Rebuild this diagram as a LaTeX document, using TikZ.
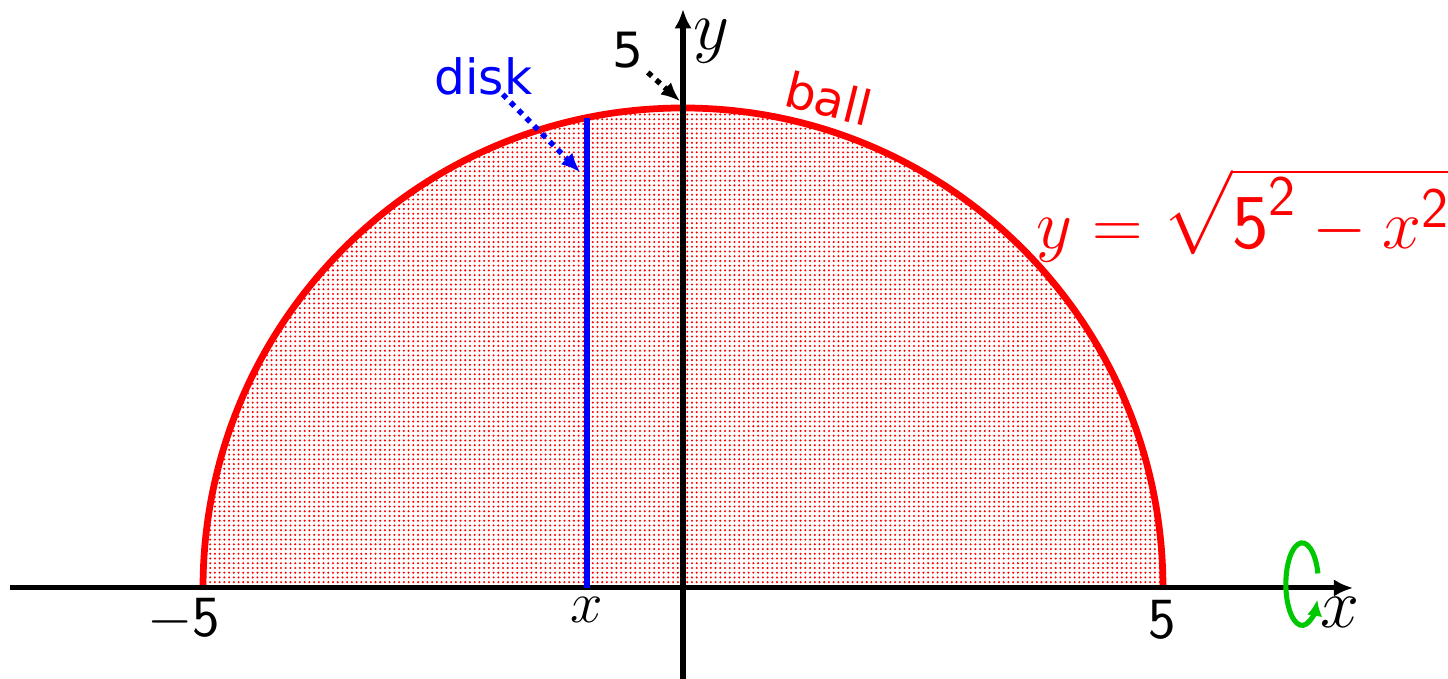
\documentclass[tikz,border=0pt]{standalone}
\usepackage{amsmath}
\usepackage{fontspec}
\newfontfamily\labelfont{DejaVu Sans}
\usetikzlibrary{arrows.meta,positioning,calc,patterns.meta}

\tikzdeclarepattern{
name=finedots,
type=uncolored,
bottom left={(-.1pt,-.1pt)},
top right={(1.5pt,1.5pt)},
tile size={(1.4pt,1.4pt)},
code={\fill (0.7pt,0.7pt) circle (0.34pt);}
}
\newcommand{\bigdigit}[1]{\text{\fontsize{23}{26}\selectfont\sffamily #1}}
\newcommand{\supdigit}[1]{\text{\fontsize{17}{20}\selectfont\sffamily #1}}

\begin{document}
\begin{tikzpicture}[
axis/.style={-{Latex[length=0.2cm,width=0.18cm]},line width=1.5pt},
ballstyle/.style={red,line width=2pt},
diskstyle/.style={blue,line width=1.6pt},
pointer/.style={-{Latex[length=0.2cm,width=0.17cm]},line width=1.6pt,dash pattern=on 1.6pt off 1.7pt},
rotstyle/.style={-{Latex[length=0.17cm,width=0.16cm]},line width=1.5pt,color={rgb,255:red,0;green,200;blue,0}},
lbl/.style={font=\LARGE,inner sep=1pt},
sflbl/.style={font=\labelfont\Large,inner sep=1pt}
]
\useasboundingbox (-7.115,-0.948) rectangle (7.969,6.125);
% region and circle
\fill[pattern=finedots,pattern color=red] (-5,0) arc[start angle=180,end angle=0,radius=5] -- cycle;
\draw[ballstyle] (-5,0) arc[start angle=180,end angle=0,radius=5];
% axes
\coordinate (xl) at (-7.01,0);
\coordinate (xr) at (6.98,0);
\coordinate (yb) at (0,-0.95);
\coordinate (yt) at (0,6.03);
\draw[axis] (xl) -- (xr);
\draw[axis] (yb) -- (yt);
\node[lbl,font=\huge] (ylab) at (0.3,5.7) {$y$};
\node[lbl,font=\huge] (xlab) at (6.84,-0.25) {$x$};
% disk
\coordinate (dbot) at (-1,0);
\coordinate (dtop) at (-1,{sqrt(24)});
\draw[diskstyle] (dbot) -- (dtop);
\node[lbl] (xpos) [below=0.06cm of dbot] {$x$};
\node[lbl] (m5) at (-5.2,-0.33) {$-\mathsf{5}$};
\node[lbl] (p5) at (4.99,-0.33) {$\mathsf{5}$};
% labels with pointers
\node[sflbl,blue] (disk) at (-2.08,5.33) {disk};
\coordinate (dtip) at (-1.07,4.33);
\draw[pointer,blue] (disk.south east) ++(-0.35,0.05) -- (dtip);
\node[sflbl] (five) at (-0.57,5.6) {5};
\coordinate (top) at (-0.03,5.07);
\draw[pointer] (five.south east) -- (top);
\node[sflbl,red,rotate=-14] (ball) at (1.52,5.1) {ball};
\node[red,anchor=base west,inner sep=0pt,font=\fontsize{20.5}{24}\selectfont] (eq) at (3.68,3.54)
{$y=\sqrt{\bigdigit{5}^{\supdigit{2}}-x^{\supdigit{2}}}$};
% rotation about the x-axis
\coordinate (rotc) at (6.45,0.04);
\draw[rotstyle] (rotc) ++(15:0.17cm and 0.43cm) arc[start angle=15,end angle=338,x radius=0.17cm,y radius=0.43cm];
\end{tikzpicture}
\end{document}
